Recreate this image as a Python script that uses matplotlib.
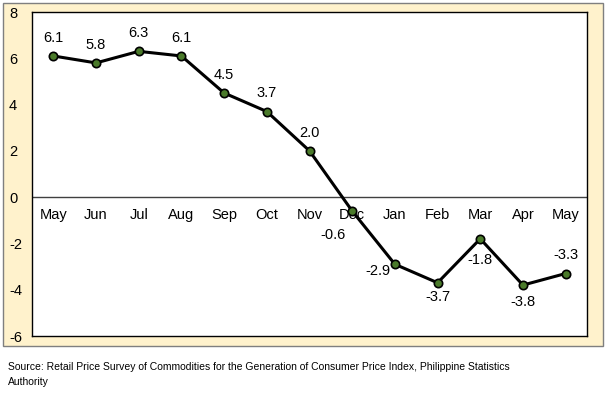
import matplotlib.pyplot as plt
from matplotlib.patches import Rectangle

# Data
months = ['May', 'Jun', 'Jul', 'Aug', 'Sep', 'Oct', 'Nov', 'Dec',
          'Jan', 'Feb', 'Mar', 'Apr', 'May']
values = [6.1, 5.8, 6.3, 6.1, 4.5, 3.7, 2.0, -0.6, -2.9, -3.7, -1.8, -3.8, -3.3]
yticks = [-6, -4, -2, 0, 2, 4, 6, 8]
# label offsets in points (dx, dy) for each data label
label_offsets = [(0, 13), (0, 13), (0, 13), (0, 13), (0, 13), (0, 13), (0, 13),
                 (-14, -17), (-12, -5), (0, -10), (0, -15), (0, -12), (0, 13)]

plt.rcParams['font.family'] = ['Liberation Sans', 'DejaVu Sans']

fig = plt.figure(figsize=(6.05, 3.94), dpi=100)
W, H = 605, 394

# Beige outer chart frame
fig.patches.append(Rectangle((3 / W, 1 - 346 / H), 600 / W, 343 / H,
                             transform=fig.transFigure, facecolor='#FFF2CC',
                             edgecolor='#7F7F7F', linewidth=1, zorder=-5))

ax = fig.add_axes([32 / W, 1 - 336 / H, 555 / W, 324 / H])
ax.set_zorder(2)
ax.set_facecolor('white')
for s in ax.spines.values():
    s.set_color('black')
    s.set_linewidth(1)

x = list(range(len(months)))
ax.plot(x, values, color='black', linewidth=2.2, zorder=3,
        marker='o', markersize=6, markerfacecolor='#4A7A2A',
        markeredgecolor='black', markeredgewidth=1.2)

ax.axhline(0, color='#404040', linewidth=1, zorder=1)

ax.set_xlim(-0.5, len(months) - 0.5)
ax.set_ylim(-6, 8)
ax.set_yticks(yticks)
ax.set_yticklabels([str(t) for t in yticks])
ax.set_xticks([])
ax.tick_params(axis='y', length=0, pad=16.5, labelsize=10.5)
for lbl in ax.get_yticklabels():
    lbl.set_horizontalalignment('left')

# month labels under the zero line
for xi, m in zip(x, months):
    ax.annotate(m, (xi, 0), xytext=(0, -13), textcoords='offset points',
                ha='center', va='center', fontsize=10.5, zorder=2)

# data labels
for xi, v, (dx, dy) in zip(x, values, label_offsets):
    ax.annotate(f'{v:.1f}', (xi, v), xytext=(dx, dy), textcoords='offset points',
                ha='center', va='center', fontsize=10.5, zorder=4)

fig.text(8 / W, 1 - 367 / H,
         'Source: Retail Price Survey of Commodities for the Generation of Consumer Price Index, Philippine Statistics',
         fontsize=7.5, va='center', ha='left')
fig.text(8 / W, 1 - 382 / H, 'Authority', fontsize=7.5, va='center', ha='left')

fig.savefig('out.png', dpi=100)
